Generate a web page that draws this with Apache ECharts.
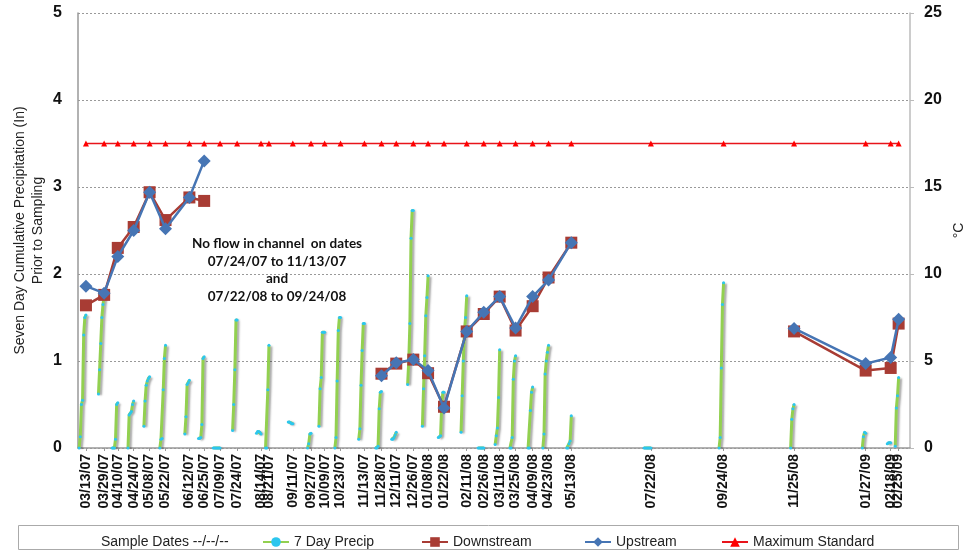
<!DOCTYPE html>
<html><head><meta charset="utf-8">
<script src="https://cdn.jsdelivr.net/npm/echarts@6/dist/echarts.min.js"></script>
<style>html,body{margin:0;padding:0;background:#fff}#c{width:973px;height:551px}</style>
</head><body><div id="c"></div>
<script>
// Sample dates (x-axis labels)
const sampleDates = [
  '2007-03-13','2007-03-29','2007-04-10','2007-04-24','2007-05-08','2007-05-22','2007-06-12','2007-06-25',
  '2007-07-09','2007-07-24','2007-08-14','2007-08-21','2007-09-11','2007-09-27','2007-10-09','2007-10-23',
  '2007-11-13','2007-11-28','2007-12-11','2007-12-26','2008-01-08','2008-01-22','2008-02-11','2008-02-26',
  '2008-03-11','2008-03-25','2008-04-09','2008-04-23','2008-05-13','2008-07-22','2008-09-24','2008-11-25',
  '2009-01-27','2009-02-18','2009-02-25'
];
// 7 day cumulative precipitation (in), daily values for the days ending on each sample date
const precip = [
  [0, 0.13, 0.5, 0.55, 1.3, 1.5, 1.53],
  [0.62, 0.9, 1.2, 1.5, 1.65, 1.75],
  [0, 0, 0, 0.1, 0.5, 0.52],
  [0, 0.38, 0.4, 0.42, 0.5, 0.54],
  [0.25, 0.54, 0.72, 0.77, 0.8, 0.82],
  [0, 0.1, 0.11, 0.67, 1.03, 1.18],
  [0.16, 0.36, 0.73, 0.75, 0.78],
  [0.11, 0.11, 0.12, 0.27, 1.03, 1.05],
  [0, 0, 0, 0, 0, 0, 0],
  [0.2, 0.5, 0.9, 1.47, 1.47],
  [0.17, 0.19, 0.19, 0.18, 0.16],
  [0, 0, 0.67, 1.18],
  [0.3, 0.3, 0.29, 0.28, 0.28],
  [0, 0.05, 0.16, 0.17],
  [0.25, 0.68, 0.81, 1.33, 1.33, 1.33],
  [0, 0.12, 0.77, 1.35, 1.5, 1.5],
  [0.1, 0.22, 0.72, 1.12, 1.43, 1.43],
  [0, 0, 0.02, 0.45, 0.64, 0.65],
  [0.1, 0.1, 0.12, 0.15, 0.18],
  [0.73, 1.0, 1.43, 2.41, 2.73, 2.73],
  [0.25, 0.68, 1.06, 1.52, 1.73, 1.98],
  [0.12, 0.13, 0.14, 0.5, 0.64, 0.64],
  [0.18, 0.6, 1.0, 1.35, 1.5, 1.75],
  [0, 0, 0, 0, 0, 0],
  [0.04, 0.14, 0.23, 0.58, 1.13],
  [0, 0, 0.12, 0.79, 1.0, 1.06],
  [0, 0, 0.43, 0.64, 0.7],
  [0, 0.16, 0.85, 1.0, 1.1, 1.18],
  [0, 0, 0.05, 0.08, 0.37],
  [0, 0, 0, 0, 0, 0, 0],
  [0, 0.12, 0.92, 1.65, 1.9],
  [0, 0.33, 0.45, 0.5],
  [0, 0.13, 0.18, 0.17],
  [0.05, 0.06, 0.06, 0.06],
  [0.02, 0.46, 0.6, 0.81]
];
// Water temperature (°C)
const downstream = [8.2, 8.8, 11.5, 12.7, 14.7, 13.1, 14.4, 14.2,
  null, null, null, null, null, null, null, null, null,
  4.27, 4.85, 5.08, 4.3, 2.37, 6.7, 7.7, 8.7, 6.75, 8.15, 9.8, 11.8,
  null, null, 6.7, 4.45, 4.6, 7.15];
const upstream = [9.3, 8.9, 11.0, 12.5, 14.7, 12.6, 14.4, 16.5,
  null, null, null, null, null, null, null, null, null,
  4.15, 4.9, 5.08, 4.45, 2.3, 6.7, 7.8, 8.7, 6.9, 8.7, 9.65, 11.8,
  null, null, 6.87, 4.85, 5.2, 7.4];
const maxStandard = 17.5;
const leftTicks = [0, 1, 2, 3, 4, 5];
const rightTicks = [0, 5, 10, 15, 20, 25];

const DAY = 86400000;
function ts(s){ const p = s.split('-').map(Number); return Date.UTC(p[0], p[1]-1, p[2]); }
function pad(n){ return (n < 10 ? '0' : '') + n; }
const X_MIN = ts('2007-03-06'), X_MAX = ts('2009-03-07');
function fmt(v){
  if (v >= X_MAX) return '';
  const d = new Date(v);
  return pad(d.getUTCMonth()+1) + '/' + pad(d.getUTCDate()) + '/' + String(d.getUTCFullYear()).slice(2);
}

const sampleTs = sampleDates.map(ts);
// trailing axis-end entry only guards the real last label from min/max overlap hiding
const labelValues = sampleTs.concat([X_MAX]);
const precipData = [];
sampleTs.forEach((t, i) => {
  const arr = precip[i];
  arr.forEach((v, k) => precipData.push([t - (arr.length - 1 - k) * DAY, v]));
  precipData.push([t + DAY / 2, null]);
});
const downData = sampleTs.map((t, i) => [t, downstream[i]]);
const upData = sampleTs.map((t, i) => [t, upstream[i]]);
const maxData = sampleTs.map(t => [t, maxStandard]);

const chart = echarts.init(document.getElementById('c'), null, {renderer: 'canvas'});
const lgText = {fontSize: 14, color: '#222', fontFamily: 'Liberation Sans, Arial, sans-serif'};
function lg(name, left, extra){
  return Object.assign({top: 530, left: left, itemWidth: 26, itemHeight: 12, itemGap: 0,
    textStyle: lgText, selectedMode: false, data: [name]}, extra || {});
}
chart.setOption({
  animation: false,
  backgroundColor: '#fff',
  grid: {left: 78, right: 63, top: 13, bottom: 103, containLabel: false, outerBoundsMode: 'none'},
  xAxis: {
    type: 'value',
    min: X_MIN, max: X_MAX,
    axisLine: {show: true, onZero: false, lineStyle: {color: '#999', width: 1.5}},
    axisTick: {show: true, customValues: labelValues, length: 3, lineStyle: {color: '#999'}},
    splitLine: {show: false},
    axisLabel: {
      customValues: labelValues, rotate: 90, formatter: fmt, margin: 6,
      showMinLabel: true, showMaxLabel: false,
      fontSize: 14, fontWeight: 'bold', color: '#111', fontFamily: 'Liberation Sans, Arial, sans-serif',
      hideOverlap: false
    }
  },
  yAxis: [{
    type: 'value', min: leftTicks[0], max: leftTicks[leftTicks.length-1], interval: 1,
    name: 'Seven Day Cumulative Precipitation (In)\nPrior to Sampling',
    nameLocation: 'middle', nameGap: 31, nameRotate: 90, nameMoveOverlap: false,
    nameTextStyle: {fontSize: 14, color: '#222', fontFamily: 'Liberation Sans, Arial, sans-serif', lineHeight: 18},
    axisLine: {show: true, lineStyle: {color: '#999', width: 1.5}},
    axisTick: {show: false},
    axisLabel: {fontSize: 16, fontWeight: 'bold', color: '#111', margin: 16, fontFamily: 'Liberation Sans, Arial, sans-serif'},
    splitLine: {show: true, lineStyle: {color: '#999', type: [2, 2], width: 1}}
  }, {
    type: 'value', min: rightTicks[0], max: rightTicks[rightTicks.length-1], interval: 5,
    position: 'right', name: '°C', nameLocation: 'middle', nameGap: 42, nameRotate: 90, nameMoveOverlap: false,
    nameTextStyle: {fontSize: 14, color: '#222', fontFamily: 'Liberation Sans, Arial, sans-serif'},
    axisLine: {show: true, lineStyle: {color: '#bbb', width: 1.5}},
    axisTick: {show: true, length: 4, lineStyle: {color: '#bbb'}},
    axisLabel: {fontSize: 16, fontWeight: 'bold', color: '#111', margin: 14, fontFamily: 'Liberation Sans, Arial, sans-serif'},
    splitLine: {show: false}
  }],
  legend: [
    lg('Sample Dates --/--/--', 65, {data: [{name: 'Sample Dates --/--/--', icon: 'rect', itemStyle: {opacity: 0}, lineStyle: {opacity: 0}}]}),
    lg('7 Day Precip', 257),
    lg('Downstream', 416),
    lg('Upstream', 579),
    lg('Maximum Standard', 716)
  ],
  graphic: [
    {type: 'rect', left: 18, top: 525, z: -10, silent: true,
     shape: {width: 940, height: 24}, style: {fill: '#fff', stroke: '#aaa', lineWidth: 1}},
    {type: 'text', x: 277, y: 235, z: 100, silent: true,
     style: {text: 'No flow in channel  on dates\n07/24/07 to 11/13/07\nand\n07/22/08 to 09/24/08',
       align: 'center', verticalAlign: 'top', font: 'bold 13.5px Lato, "Open Sans", sans-serif', lineHeight: 17.5, fill: '#111'}}
  ],
  series: [
    {name: 'Sample Dates --/--/--', type: 'line', data: [], yAxisIndex: 0},
    {name: '7 Day Precip', type: 'line', yAxisIndex: 0, data: precipData, connectNulls: false,
     symbol: 'circle', symbolSize: 3, showSymbol: true,
     itemStyle: {color: '#2cc6ee'},
     lineStyle: {color: '#92d050', width: 3, shadowColor: 'rgba(0,0,0,0.35)', shadowBlur: 2, shadowOffsetX: 2, shadowOffsetY: 1},
     z: 2},
    {name: 'Downstream', type: 'line', yAxisIndex: 1, data: downData, connectNulls: false,
     symbol: 'rect', symbolSize: 12, itemStyle: {color: '#a83c34'},
     lineStyle: {color: '#a83c34', width: 2.5}, z: 3},
    {name: 'Upstream', type: 'line', yAxisIndex: 1, data: upData, connectNulls: false,
     symbol: 'diamond', symbolSize: 13, itemStyle: {color: '#4675b4'},
     lineStyle: {color: '#4675b4', width: 2.5}, z: 4},
    {name: 'Maximum Standard', type: 'line', yAxisIndex: 1, data: maxData,
     symbol: 'triangle', symbolSize: 6, itemStyle: {color: '#ff0000'},
     lineStyle: {color: '#e8141b', width: 1.5}, z: 5}
  ]
});
</script>
</body></html>
